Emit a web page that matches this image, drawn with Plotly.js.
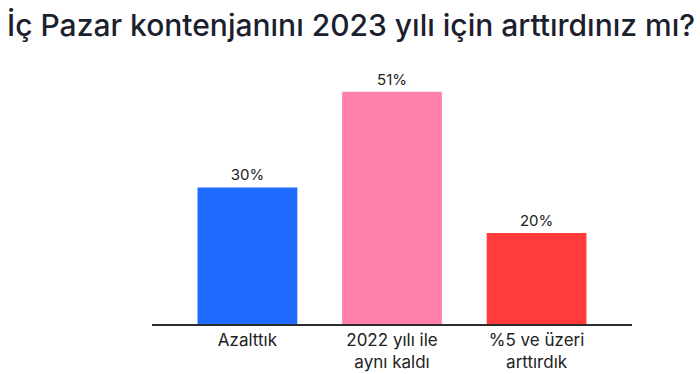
<!DOCTYPE html>
<html><head><meta charset="utf-8">
<script src="https://cdn.plot.ly/plotly-3.0.1.min.js"></script>
<style>html,body{margin:0;padding:0;background:#fff;}#chart{width:700px;height:374px;}</style>
</head><body><div id="chart"></div>
<script>
const categories = ["Azalttık", "2022 yılı ile<br>aynı kaldı", "%5 ve üzeri<br>arttırdık"];
const values = [30, 51, 20];
const valueLabels = ["30%", "51%", "20%"];
const colors = ["#1f6bff", "#ff80a8", "#ff3b3b"];
const titleText = "İç Pazar kontenjanını 2023 yılı için arttırdınız mı?";

const trace = {
  type: "bar",
  x: [0, 1, 2],
  y: values,
  text: valueLabels,
  textposition: "outside",
  cliponaxis: false,
  textfont: {family: "Inter, 'Open Sans', sans-serif", size: 15, color: "#222"},
  marker: {color: colors},
  hoverinfo: "none"
};
const layout = {
  width: 700, height: 374,
  margin: {l: 152, r: 68, t: 70, b: 50},
  paper_bgcolor: "#fff", plot_bgcolor: "#fff",
  bargap: 0.31,
  showlegend: false,
  title: {text: titleText, x: 0.01, xanchor: "left", y: 0.96, yanchor: "top",
          font: {family: "Inter, 'Open Sans', sans-serif", size: 30, weight: 500, color: "#1b1f2e"}},
  xaxis: {range: [-0.66, 2.66], tickmode: "array", tickvals: [0, 1, 2], ticktext: categories,
          showgrid: false, zeroline: false, showline: true, linecolor: "#2b2b2b", linewidth: 1.5,
          ticks: "", tickfont: {family: "Inter, 'Open Sans', sans-serif", size: 17, color: "#222"}},
  yaxis: {range: [0, 55.8], visible: false, showgrid: false, zeroline: false}
};
Plotly.newPlot("chart", [trace], layout, {displayModeBar: false, staticPlot: true});
</script></body></html>
